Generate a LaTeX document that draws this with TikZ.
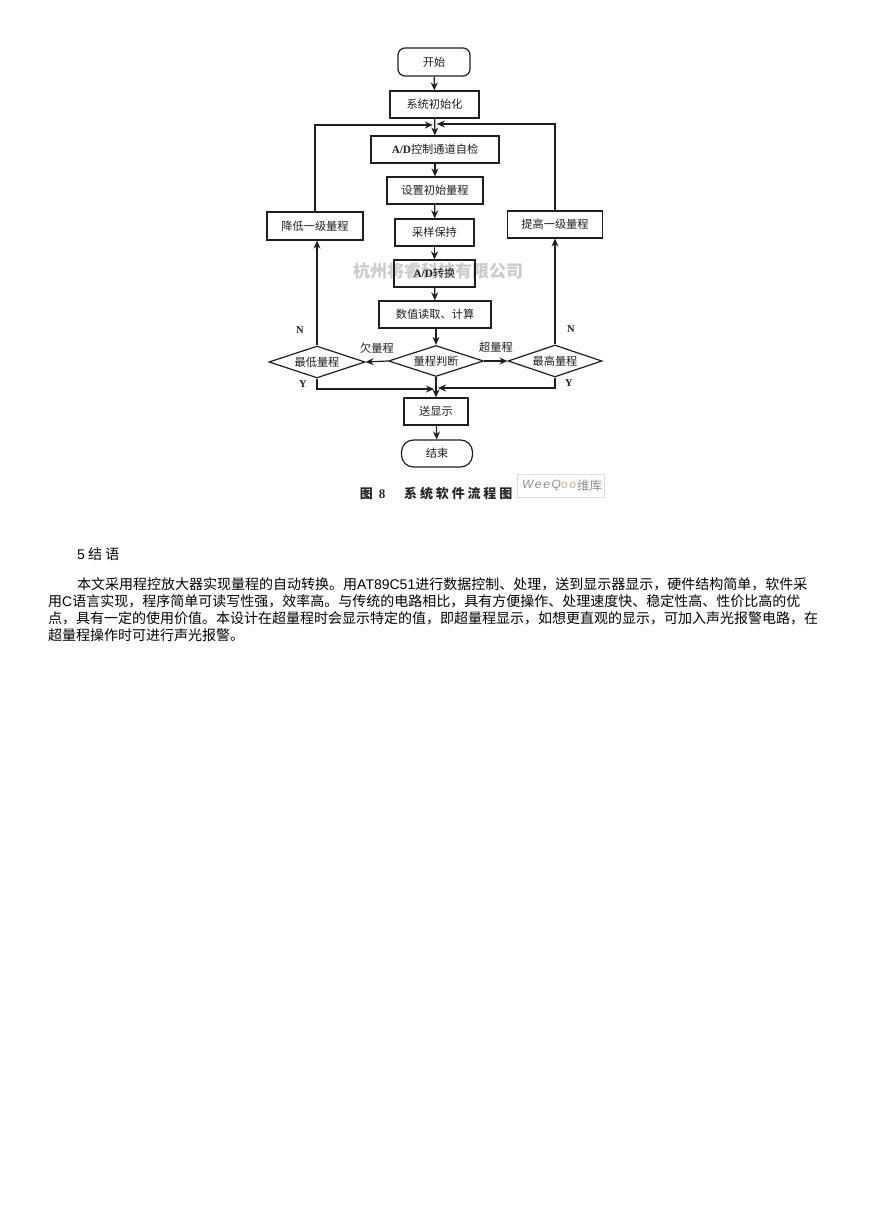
\documentclass[tikz,border=0pt]{standalone}
\usepackage{fontspec}
\setmainfont{Noto Sans CJK SC}
\newfontfamily\latin{Liberation Sans}
\newfontfamily\latinserif{Liberation Serif}
\newfontfamily\capfont[LetterSpace=22]{Noto Sans CJK SC}
\newfontfamily\wqfont[LetterSpace=14]{Liberation Sans}
\usetikzlibrary{shapes.geometric,shapes.misc,arrows.meta}
\definecolor{ink}{HTML}{1e1e1e}
\tikzset{
 x=1pt,y=-1pt,
 line/.style={draw=ink,line width=1.2pt},
 flow/.style={line,-{Stealth[length=8pt,width=7pt]}},
 boxn/.style={line,rectangle,inner sep=0pt,text=ink,font=\fontsize{11.2}{13}\selectfont},
 term/.style={boxn,rounded corners=7pt},
 dec/.style={line,diamond,aspect=3,inner sep=0pt,text=ink,font=\fontsize{11.2}{13}\selectfont},
 lab/.style={inner sep=0pt,text=ink,font=\fontsize{11.2}{13}\selectfont},
 letter/.style={inner sep=0pt,text=ink,font=\latinserif\bfseries\fontsize{10.5}{12}\selectfont},
 para/.style={inner sep=0pt,anchor=base west,text=black,font=\fontsize{14}{16}\selectfont},
}
\begin{document}
\begin{tikzpicture}
\useasboundingbox (0,0) rectangle (868,1228);
\node[inner sep=0pt,text=black!20,font=\bfseries\fontsize{17}{19}\selectfont] (mark) at (438,271) {杭州将睿科技有限公司};
\node[term,minimum width=72pt,minimum height=28pt] (start) at (434,62) {开始};
\node[boxn,minimum width=89pt,minimum height=27pt] (init) at (434.5,104.5) {系统初始化};
\node[boxn,minimum width=128pt,minimum height=27pt] (check) at (435,149.5) {{\latinserif\bfseries A/D}控制通道自检};
\node[boxn,minimum width=96pt,minimum height=27pt] (range) at (435,190.5) {设置初始量程};
\node[boxn,minimum width=79pt,minimum height=27pt] (hold) at (434.5,232.5) {采样保持};
\node[boxn,minimum width=81pt,minimum height=27pt] (adc) at (434.5,273.5) {{\latinserif\bfseries A/D}转换};
\node[boxn,minimum width=112pt,minimum height=27pt] (read) at (435,314.5) {数值读取、计算};
\node[dec,minimum width=95pt,minimum height=31pt] (judge) at (436,361) {量程判断};
\node[dec,minimum width=96pt,minimum height=32pt] (low) at (317,362) {最低量程};
\node[dec,minimum width=94pt,minimum height=32pt] (high) at (555,361) {最高量程};
\node[boxn,minimum width=96pt,minimum height=28pt] (down) at (315,226) {降低一级量程};
\node[boxn,minimum width=95pt,minimum height=27pt] (up) at (555,224.5) {提高一级量程};
\node[boxn,minimum width=64pt,minimum height=27pt] (send) at (436,411.5) {送显示};
\node[boxn,rounded corners=12pt,minimum width=71pt,minimum height=27pt] (end) at (437,453.5) {结束};
\coordinate (jtl) at (432.8,125);
\coordinate (jtr) at (436.8,124);
\coordinate (jbl) at (434,389);
\coordinate (jbr) at (438,388);
\draw[flow] (start) -- (init);
\draw[flow] (init) -- (check);
\draw[flow] (check) -- (range);
\draw[flow] (range) -- (hold);
\draw[flow] (hold) -- (adc);
\draw[flow] (adc) -- (read);
\draw[flow] (read.south -| judge.north) -- (judge.north);
\draw[flow] (judge.west) -- (low.east);
\draw[flow] (judge.east) -- (high.west);
\draw[flow] (judge) -- (send);
\draw[flow] (send) -- (end);
\draw[flow] (low.north) -- (down.south -| low.north);
\draw[flow] (high.north) -- (up.south -| high.north);
\draw[flow] (down.north) |- (jtl);
\draw[flow] (up.north) |- (jtr);
\draw[flow] (low.south) |- (jbl);
\draw[flow] (high.south) |- (jbr);
\node[lab] (lq) at (377,348) {欠量程};
\node[lab] (oq) at (496,347) {超量程};
\node[letter] (n1) at (300,330) {N};
\node[letter] (y1) at (303,384) {Y};
\node[letter] (n2) at (571,329) {N};
\node[letter] (y2) at (569,383) {Y};
\node[inner sep=0pt,text=black!85,font=\bfseries\fontsize{13}{14}\selectfont] (cap1) at (372.5,493.5) {图\hspace{6pt}{\latinserif 8}};
\node[inner sep=0pt,anchor=west,text=black!85,font=\capfont\bfseries\fontsize{13}{14}\selectfont] (cap2) at (404,493.5) {系统软件流程图};
\node[draw=black!13,line width=.7pt,minimum width=87pt,minimum height=23pt,inner sep=0pt] (logo) at (560.5,485.5) {};
\node[inner sep=0pt,anchor=west,font=\wqfont\itshape\fontsize{12}{13}\selectfont,text=black!45] (logot) at (522,485.5) {WeeQ\textcolor{orange!45!black!40}{oo}};
\node[inner sep=0pt,anchor=west,font=\fontsize{12.5}{13}\selectfont,text=black!45] (logoc) at (577,485.5) {维库};
\node[para] (h) at (77,559) {{\latin 5} 结 语};
\node[para] (l1) at (77,589) {本文采用程控放大器实现量程的自动转换。用{\latin AT89C51}进行数据控制、处理，送到显示器显示，硬件结构简单，软件采};
\node[para] (l2) at (48,606) {用{\latin C}语言实现，程序简单可读写性强，效率高。与传统的电路相比，具有方便操作、处理速度快、稳定性高、性价比高的优};
\node[para] (l3) at (48,623) {点，具有一定的使用价值。本设计在超量程时会显示特定的值，即超量程显示，如想更直观的显示，可加入声光报警电路，在};
\node[para] (l4) at (48,640) {超量程操作时可进行声光报警。};
\end{tikzpicture}
\end{document}
